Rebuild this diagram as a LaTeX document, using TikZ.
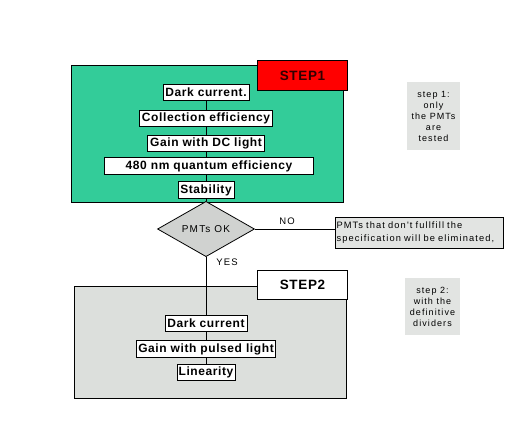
\documentclass[tikz,border=0pt]{standalone}
\usepackage{fontspec}
\setmainfont{Liberation Sans}
\newfontfamily\spaced[LetterSpace=12]{Liberation Sans}
\newfontfamily\wide[LetterSpace=5]{Liberation Sans}
\usetikzlibrary{shapes.geometric}
\definecolor{stepgreen}{RGB}{51,204,153}
\definecolor{stepred}{RGB}{255,0,0}
\definecolor{boxgray}{RGB}{220,223,220}
\definecolor{notegray}{RGB}{226,228,226}
\definecolor{diagray}{RGB}{208,210,208}
\tikzset{
  test/.style={draw,fill=white,inner sep=0pt,minimum height=16.5pt,font=\wide\fontsize{12}{12}\selectfont\bfseries},
  tag/.style={draw,inner sep=0pt,minimum width=90pt,minimum height=29.5pt,font=\wide\fontsize{13.5}{13.5}\selectfont\bfseries},
  note/.style={fill=notegray,align=center,inner sep=0pt,font=\spaced\fontsize{9}{11}\selectfont}
}
\begin{document}
\begin{tikzpicture}[x=1pt,y=-1pt,line width=0.8pt]
\useasboundingbox (0,0) rectangle (512,432);
% step 1
\draw[fill=stepgreen] (71,65) rectangle (343,202);
\node[tag,fill=stepred,text={rgb,255:red,50;green,0;blue,0}] (step1) at (302.5,75.5) {STEP1};
\node[test,minimum width=86pt] (dark1) at (206,92.5) {Dark current.};
\node[test,minimum width=133pt] (coll) at (206,118.5) {Collection efficiency};
\node[test,minimum width=117pt] (gaindc) at (206,143.5) {Gain with DC light};
\node[test,minimum width=209pt] (qe) at (209,166) {480 nm quantum efficiency};
\node[test,minimum width=56pt] (stab) at (206,190) {Stability};
% decision
\node[diamond,draw,fill=diagray,inner sep=0pt,minimum width=97pt,minimum height=38pt,
  font=\spaced\fontsize{10}{10}\selectfont] (ok) at (206,229) {PMTs OK};
\node[draw,fill=notegray,inner xsep=1.5pt,inner ysep=2pt,text width=165pt,minimum height=31pt,
  align=left,font=\spaced\fontsize{9.3}{13.5}\selectfont] (fail) at (419,232.5)
  {\mbox{PMTs that don't fullfill the}\\\mbox{specification will be eliminated,}};
\node[font=\spaced\fontsize{9.5}{10}\selectfont] (no) at (287,221) {NO};
\node[font=\spaced\fontsize{9.5}{10}\selectfont] (yes) at (227,262) {YES};
\draw (dark1) -- (coll) -- (gaindc) -- (dark1 |- qe.north);
\draw (dark1 |- qe.south) -- (stab) -- (ok);
\draw (ok.east) -- (ok.east -| fail.west);
% step 2
\draw[fill=boxgray] (74,286) rectangle (346,398);
\node[tag,fill=white] (step2) at (302.5,285) {STEP2};
\node[test,minimum width=82pt] (dark2) at (206,323.5) {Dark current};
\node[test,minimum width=139pt] (gainpl) at (206,349) {Gain with pulsed light};
\node[test,minimum width=58pt] (lin) at (206,372.5) {Linearity};
\draw (ok) -- (dark2) -- (gainpl) -- (lin);
% notes
\node[note,minimum width=53pt,minimum height=68pt] (note1) at (433.5,116) {step 1:\\only\\the PMTs\\are\\tested};
\node[note,minimum width=55pt,minimum height=57pt] (note2) at (432.5,306.5) {step 2:\\with the\\definitive\\dividers};
\end{tikzpicture}
\end{document}
